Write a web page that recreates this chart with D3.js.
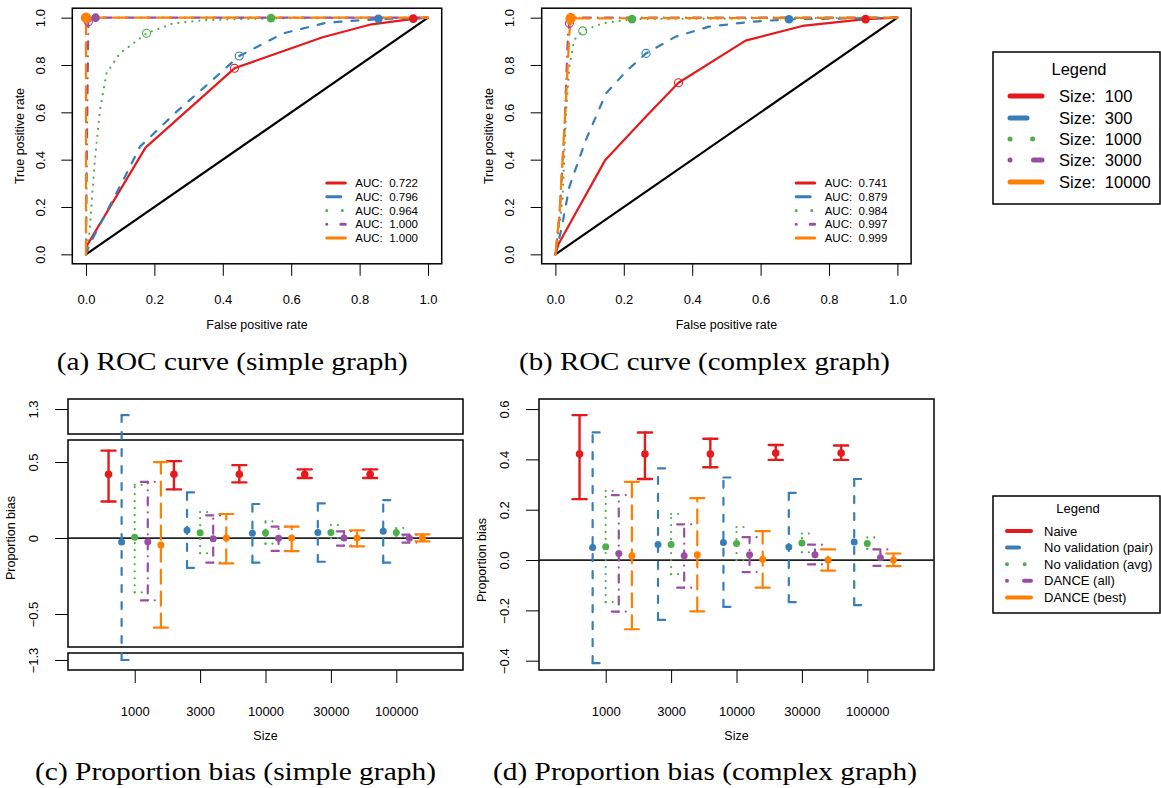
<!DOCTYPE html>
<html>
<head>
<meta charset="utf-8">
<script src="https://cdn.jsdelivr.net/npm/d3@7"></script>
<style>
body { margin: 0; background: #fff; }
text { font-family: "Liberation Sans", Arial, sans-serif; }
</style>
</head>
<body>
<svg id="fig"></svg>
<script>
// ---- data ----
const sizeLabels = ["100", "300", "1000", "3000", "10000"];
const aucSimple  = [0.722, 0.796, 0.964, 1.000, 1.000];
const aucComplex = [0.741, 0.879, 0.984, 0.997, 0.999];

// ROC curves, one [fpr, tpr] list per size
const rocSimple = [
  [[0,0],[0.004,0.04],[0.174,0.451],[0.434,0.786],[0.692,0.917],[0.835,0.972],[0.957,0.995],[1,1]],
  [[0,0],[0.01,0.04],[0.109,0.314],[0.158,0.455],[0.265,0.603],[0.353,0.715],[0.448,0.838],[0.577,0.934],[0.704,0.979],[0.855,0.994],[1,1]],
  [[0,0],[0.01,0.089],[0.026,0.399],[0.041,0.61],[0.06,0.765],[0.099,0.849],[0.177,0.934],[0.255,0.976],[0.353,0.99],[0.541,0.997],[1,1]],
  [[0,0],[0.003,0.5],[0.007,0.983],[0.028,1],[1,1]],
  [[0,0],[0,1],[1,1]]
];
const rocSimpleOpen   = [[0.434,0.786],[0.448,0.838],[0.177,0.934],[0.007,0.983],[0.002,0.995]];
const rocSimpleFilled = [[0.957,0.996],[0.855,0.995],[0.541,0.998],[0.028,1.0],[0,1.0]];

const rocComplex = [
  [[0,0],[0.01,0.046],[0.146,0.399],[0.265,0.582],[0.36,0.725],[0.556,0.903],[0.722,0.965],[0.907,0.994],[1,1]],
  [[0,0],[0.017,0.103],[0.041,0.286],[0.089,0.483],[0.148,0.68],[0.206,0.772],[0.265,0.849],[0.352,0.92],[0.449,0.962],[0.576,0.983],[0.683,0.993],[1,1]],
  [[0,0],[0.021,0.23],[0.031,0.596],[0.041,0.793],[0.055,0.906],[0.08,0.944],[0.138,0.976],[0.224,0.994],[1,1]],
  [[0,0],[0.012,0.159],[0.026,0.511],[0.037,0.934],[0.041,0.976],[0.046,1],[1,1]],
  [[0,0],[0.012,0.173],[0.031,0.652],[0.041,0.934],[0.045,0.997],[1,1]]
];
const rocComplexOpen   = [[0.36,0.725],[0.265,0.849],[0.08,0.944],[0.041,0.976],[0.043,0.99]];
const rocComplexFilled = [[0.907,0.994],[0.683,0.993],[0.224,0.994],[0.045,1.0],[0.045,0.998]];

const rocTicks = [0, 0.2, 0.4, 0.6, 0.8, 1.0];

// proportion bias, rows = method, cols = size
const biasSizes = ["1000", "3000", "10000", "30000", "100000"];
const methods = ["Naive", "No validation (pair)", "No validation (avg)", "DANCE (all)", "DANCE (best)"];

const simpleMean = [
  [0.42, 0.42, 0.42, 0.42, 0.42],
  [-0.026, 0.052, 0.031, 0.037, 0.044],
  [0.005, 0.035, 0.035, 0.037, 0.037],
  [-0.024, -0.004, -0.002, 0.0, -0.002],
  [-0.046, 0.0, 0.0, 0.0, 0.0]
];
const simpleUpper = [
  [0.575, 0.506, 0.48, 0.452, 0.452],
  [1.26, 0.30, 0.224, 0.228, 0.25],
  [0.35, 0.171, 0.11, 0.086, 0.066],
  [0.37, 0.149, 0.075, 0.044, 0.022],
  [0.50, 0.158, 0.075, 0.05, 0.024]
];
const simpleLower = [
  [0.24, 0.32, 0.366, 0.395, 0.395],
  [-1.3, -0.197, -0.162, -0.156, -0.162],
  [-0.357, -0.10, -0.037, 0.0, 0.015],
  [-0.41, -0.162, -0.085, -0.05, -0.03],
  [-0.59, -0.167, -0.086, -0.055, -0.022]
];

const complexMean = [
  [0.421, 0.421, 0.421, 0.425, 0.425],
  [0.05, 0.062, 0.07, 0.052, 0.072],
  [0.053, 0.062, 0.066, 0.068, 0.066],
  [0.026, 0.017, 0.021, 0.021, 0.009],
  [0.017, 0.021, 0.003, 0.0, 0.0]
];
const complexUpper = [
  [0.576, 0.507, 0.482, 0.457, 0.455],
  [0.507, 0.364, 0.328, 0.267, 0.322],
  [0.274, 0.183, 0.131, 0.105, 0.09],
  [0.258, 0.142, 0.091, 0.061, 0.042],
  [0.311, 0.246, 0.115, 0.042, 0.026]
];
const complexLower = [
  [0.242, 0.322, 0.369, 0.398, 0.398],
  [-0.41, -0.238, -0.186, -0.167, -0.179],
  [-0.167, -0.056, 0.0, 0.031, 0.044],
  [-0.205, -0.11, -0.048, -0.017, -0.023],
  [-0.275, -0.204, -0.11, -0.042, -0.024]
];

const simpleTicks  = [-1.3, -0.5, 0, 0.5, 1.3];
const complexTicks = [-0.4, -0.2, 0.0, 0.2, 0.4, 0.6];

// ---- styles ----
const pal = ["#E41A1C", "#377EB8", "#4DAF4A", "#984EA3", "#FF7F00"];
const lineDash = [null, "7,10", "0.01,7", "0.01,7,8,7", "14,8"];

const svg = d3.select("#fig").attr("width", 1161).attr("height", 788);

function styleAxis(ax, size) {
  ax.attr("font-family", null).attr("font-size", size);
  ax.select(".domain").remove();
  ax.selectAll(".tick line").attr("stroke", "#000").attr("stroke-width", 1);
  ax.selectAll(".tick text").attr("fill", "#000");
}

function rotateYLabels(ax, off) {
  ax.selectAll(".tick text")
    .attr("text-anchor", "middle")
    .attr("transform", "rotate(-90)")
    .attr("x", 0).attr("y", -off).attr("dy", "0.35em");
}

function drawRoc(left, curves, openPts, filledPts, aucs) {
  const right = left + 369.4, top = 8.2, bottom = 263.8;
  const x = d3.scaleLinear().domain([-0.04, 1.04]).range([left, right]);
  const y = d3.scaleLinear().domain([-0.04, 1.04]).range([bottom, top]);
  const g = svg.append("g");
  const line = d3.line().x(d => x(d[0])).y(d => y(d[1]));

  g.append("path").attr("d", line([[0, 0], [1, 1]]))
    .attr("stroke", "#000").attr("stroke-width", 2.2).attr("fill", "none");

  curves.forEach((c, i) => {
    g.append("path").attr("d", line(c))
      .attr("fill", "none").attr("stroke", pal[i]).attr("stroke-width", 2.2)
      .attr("stroke-linecap", "round").attr("stroke-linejoin", "round")
      .attr("stroke-dasharray", lineDash[i]);
  });
  openPts.forEach((p, i) => {
    g.append("circle").attr("cx", x(p[0])).attr("cy", y(p[1])).attr("r", 4)
      .attr("fill", "none").attr("stroke", pal[i]).attr("stroke-width", 1.1);
  });
  filledPts.forEach((p, i) => {
    g.append("circle").attr("cx", x(p[0])).attr("cy", y(p[1])).attr("r", i === 4 ? 5.2 : 4.3)
      .attr("fill", pal[i]);
  });

  g.append("rect").attr("x", left).attr("y", top).attr("width", right - left).attr("height", bottom - top)
    .attr("fill", "none").attr("stroke", "#000").attr("stroke-width", 1.5);

  const xa = g.append("g").attr("transform", `translate(0,${bottom})`)
    .call(d3.axisBottom(x).tickValues(rocTicks).tickSize(12).tickPadding(19).tickFormat(d3.format(".1f")));
  styleAxis(xa, 13);
  const ya = g.append("g").attr("transform", `translate(${left},0)`)
    .call(d3.axisLeft(y).tickValues(rocTicks).tickSize(11).tickFormat(d3.format(".1f")));
  styleAxis(ya, 13);
  rotateYLabels(ya, 32);

  g.append("text").attr("x", (x(0) + x(1)) / 2).attr("y", 328.5).attr("text-anchor", "middle")
    .attr("font-size", 12.5).text("False positive rate");
  g.append("text").attr("transform", `translate(${left - 53},${(top + bottom) / 2}) rotate(-90)`)
    .attr("dy", "0.35em").attr("text-anchor", "middle").attr("font-size", 12.5).text("True positive rate");

  // in-plot legend
  const legDash = [null, "14,100", "0.01,15.5", "0.01,14,6,100", null];
  const lx = left + 252;
  aucs.forEach((a, i) => {
    const ly = 183 + i * 13.75;
    g.append("path").attr("d", `M${lx + 2.5},${ly}L${lx + 21},${ly}`)
      .attr("stroke", pal[i]).attr("stroke-width", 3).attr("stroke-linecap", "round")
      .attr("stroke-dasharray", legDash[i]);
    g.append("text").attr("x", lx + 31).attr("y", ly + 4).attr("font-size", 11.5)
      .style("white-space", "pre").text("AUC:  " + a.toFixed(3));
  });
}

function drawBias(left, y, boxes, ticks, tickFmt, mean, upper, lower) {
  const right = left + 395, bottom = 670;
  const x = d3.scaleLinear().domain([-3.1, 27.1]).range([left, right]);
  const g = svg.append("g");

  boxes.forEach(b => {
    g.append("rect").attr("x", left).attr("y", y(b[1])).attr("width", right - left)
      .attr("height", y(b[0]) - y(b[1])).attr("fill", "none").attr("stroke", "#000").attr("stroke-width", 1.5);
  });
  g.append("line").attr("x1", left).attr("x2", right).attr("y1", y(0)).attr("y2", y(0))
    .attr("stroke", "#222").attr("stroke-width", 1.7);

  mean.forEach((row, m) => {
    row.forEach((v, s) => {
      const xi = x(s * 5 + m);
      const yu = y(upper[m][s]), yl = y(lower[m][s]);
      const common = sel => sel.attr("fill", "none").attr("stroke", pal[m])
        .attr("stroke-width", m === 0 ? 2.4 : 2.2).attr("stroke-linecap", "round")
        .attr("stroke-dasharray", lineDash[m]);
      g.append("path").attr("d", `M${xi},${yl}L${xi},${yu}`).call(common);
      g.append("path").attr("d", `M${xi + 7},${yu}L${xi - 7},${yu}`).call(common);
      g.append("path").attr("d", `M${xi + 7},${yl}L${xi - 7},${yl}`).call(common);
      g.append("circle").attr("cx", xi).attr("cy", y(v)).attr("r", m === 0 ? 3.8 : 3.5).attr("fill", pal[m]);
    });
  });

  const xa = g.append("g").attr("transform", `translate(0,${bottom})`)
    .call(d3.axisBottom(x).tickValues([2, 7, 12, 17, 22]).tickSize(13).tickPadding(23.5)
      .tickFormat(i => biasSizes[(i - 2) / 5]));
  styleAxis(xa, 13);
  const ya = g.append("g").attr("transform", `translate(${left},0)`)
    .call(d3.axisLeft(y).tickValues(ticks).tickSize(13).tickFormat(tickFmt));
  styleAxis(ya, 13);
  rotateYLabels(ya, 35);

  g.append("text").attr("x", x(12)).attr("y", 739.5).attr("text-anchor", "middle")
    .attr("font-size", 12.5).text("Size");
  g.append("text").attr("transform", `translate(${left - 57},${y(0)}) rotate(-90)`)
    .attr("dy", "0.35em").attr("text-anchor", "middle").attr("font-size", 12.5).text("Proportion bias");
}

drawRoc(72.3, rocSimple, rocSimpleOpen, rocSimpleFilled, aucSimple);
drawRoc(541.7, rocComplex, rocComplexOpen, rocComplexFilled, aucComplex);

const minus = s => s.replace("-", "\u2212");
const ySimple = d3.scaleLinear()
  .domain([-1.366, -1.254, -0.717, 0.645, 1.136, 1.366])
  .range([670, 653, 647, 440, 434, 399]);
drawBias(68, ySimple, [[1.136, 1.366], [-0.717, 0.645], [-1.366, -1.254]],
  simpleTicks, d => minus(String(d)), simpleMean, simpleUpper, simpleLower);

const yComplex = d3.scaleLinear().domain([-0.437, 0.64]).range([670, 399]);
drawBias(539, yComplex, [[-0.437, 0.64]],
  complexTicks, d => minus(d3.format(".1f")(d)), complexMean, complexUpper, complexLower);

// ---- size legend ----
const leg1 = svg.append("g");
leg1.append("rect").attr("x", 993).attr("y", 52).attr("width", 167).attr("height", 152)
  .attr("fill", "#fff").attr("stroke", "#000").attr("stroke-width", 1.5);
leg1.append("text").attr("x", 1079).attr("y", 75).attr("text-anchor", "middle")
  .attr("font-size", 16.5).text("Legend");
const leg1Dash = [null, "17,100", "0.01,22.6", "0.01,23.5,9,100", null];
sizeLabels.forEach((s, i) => {
  const ly = [96, 118, 139, 160, 182][i];
  leg1.append("path").attr("d", `M1010,${ly}L1042,${ly}`).attr("stroke", pal[i])
    .attr("stroke-width", 5).attr("stroke-linecap", "round").attr("stroke-dasharray", leg1Dash[i]);
  leg1.append("text").attr("x", 1059).attr("y", ly + 6).attr("font-size", 16.5)
    .style("white-space", "pre").text("Size:  " + s);
});

// ---- method legend ----
const leg2 = svg.append("g");
leg2.append("rect").attr("x", 993).attr("y", 496).attr("width", 167).attr("height", 117)
  .attr("fill", "#fff").attr("stroke", "#000").attr("stroke-width", 1.5);
leg2.append("text").attr("x", 1078).attr("y", 512.5).attr("text-anchor", "middle")
  .attr("font-size", 13).text("Legend");
const leg2Dash = [null, "12,100", "0.01,17.6", "0.01,17,7,100", null];
methods.forEach((mName, i) => {
  const ly = 531 + i * 16.6;
  leg2.append("path").attr("d", `M1007,${ly}L1031,${ly}`).attr("stroke", pal[i])
    .attr("stroke-width", 4).attr("stroke-linecap", "round").attr("stroke-dasharray", leg2Dash[i]);
  leg2.append("text").attr("x", 1044).attr("y", ly + 4.6).attr("font-size", 13).text(mName);
});

// ---- sub-figure captions ----
const captions = [
  { t: "(a) ROC curve (simple graph)", x: 56.7, y: 370, w: 351 },
  { t: "(b) ROC curve (complex graph)", x: 519, y: 370, w: 371 },
  { t: "(c) Proportion bias (simple graph)", x: 35, y: 780, w: 401 },
  { t: "(d) Proportion bias (complex graph)", x: 493, y: 780, w: 424 }
];
svg.selectAll("text.cap").data(captions).enter().append("text").attr("class", "cap")
  .attr("x", d => d.x).attr("y", d => d.y)
  .attr("textLength", d => d.w).attr("lengthAdjust", "spacingAndGlyphs")
  .style("font-family", "'Liberation Serif', 'DejaVu Serif', serif").attr("font-size", 26)
  .text(d => d.t);
</script>
</body>
</html>
